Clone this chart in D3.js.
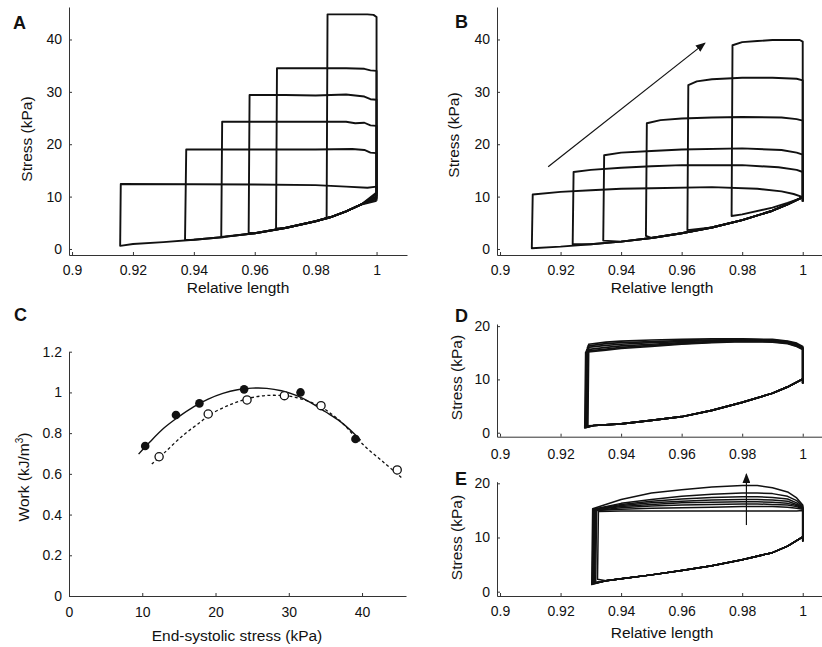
<!DOCTYPE html>
<html>
<head>
<meta charset="utf-8">
<script src="https://cdn.jsdelivr.net/npm/d3@7"></script>
<style>
body { margin: 0; background: #fff; }
text { font-family: Arial, "Liberation Sans", Helvetica, sans-serif; fill: #111; }
</style>
</head>
<body>
<svg id="chart" width="822" height="647"></svg>
<script>
// ---- values ----

// shared length ticks for the loop panels
const lengthTicks = [0.9, 0.92, 0.94, 0.96, 0.98, 1];

// A: afterload series, each loop = start at L=1, ejection points, end-systolic length, bottom
const aPassive = [[0.92, 0.95], [0.93, 1.3], [0.94, 1.75], [0.95, 2.3], [0.96, 3.0], [0.97, 4.0],
  [0.98, 5.3], [0.985, 6.1], [0.99, 7.2], [0.995, 8.5]];
const aLoops = [
  {les: 0.9158, bottom: 0.6, start: 10.8, iso: [[1, 11.9], [0.997, 11.7], [0.99, 11.9], [0.98, 12.2], [0.96, 12.3], [0.94, 12.35], [0.916, 12.4]]},
  {les: 0.9371, bottom: 1.7, start: 10.5, iso: [[1, 18.3], [0.998, 18.4], [0.996, 18.9], [0.992, 19.1], [0.98, 19.0], [0.96, 19.0], [0.9375, 19.0]]},
  {les: 0.949, bottom: 2.3, start: 10.1, iso: [[1, 23.5], [0.998, 23.6], [0.996, 24.1], [0.993, 24.0], [0.99, 24.3], [0.98, 24.3], [0.96, 24.3], [0.9493, 24.3]]},
  {les: 0.958, bottom: 3.1, start: 9.8, iso: [[1, 28.5], [0.998, 28.6], [0.996, 29.1], [0.993, 29.3], [0.99, 29.5], [0.98, 29.3], [0.97, 29.4], [0.9583, 29.4]]},
  {les: 0.967, bottom: 3.9, start: 9.5, iso: [[1, 34.0], [0.998, 34.1], [0.996, 34.4], [0.99, 34.5], [0.98, 34.5], [0.9673, 34.5]]},
  {les: 0.9836, bottom: 5.8, start: 9.2, iso: [[1, 44.3], [0.999, 44.7], [0.997, 44.8], [0.99, 44.8], [0.9839, 44.8]]}
];

// B: preload series
const bPassive = [[0.92, 0.45], [0.93, 0.9], [0.94, 1.4], [0.95, 2.1], [0.96, 3.0], [0.97, 4.1],
  [0.98, 5.5], [0.99, 7.3], [0.995, 8.5], [1, 9.9]];
const bLoops = [
  {les: 0.9105, bottom: 0.15, start: 9.9, iso: [[1, 9.9], [0.997, 10.5], [0.993, 11.0], [0.985, 11.5], [0.97, 11.8], [0.95, 11.6], [0.94, 11.5], [0.93, 11.2], [0.92, 10.9], [0.9108, 10.4]]},
  {les: 0.924, bottom: 0.9, start: 9.2, iso: [[1, 14.7], [0.998, 15.1], [0.992, 15.6], [0.98, 16.0], [0.96, 16.0], [0.95, 15.8], [0.94, 15.5], [0.93, 15.1], [0.9243, 14.7]]},
  {les: 0.9341, bottom: 1.6, start: 9.3, iso: [[1, 18.0], [0.998, 18.4], [0.993, 18.9], [0.98, 19.2], [0.96, 19.0], [0.95, 18.7], [0.94, 18.4], [0.9344, 17.9]]},
  {les: 0.9482, bottom: 2.5, start: 9.1, iso: [[1, 24.5], [0.998, 24.8], [0.993, 25.1], [0.98, 25.2], [0.97, 25.1], [0.96, 24.9], [0.953, 24.6], [0.9485, 24.0]]},
  {les: 0.9619, bottom: 3.6, start: 9.0, iso: [[1, 32.2], [0.998, 32.5], [0.99, 32.7], [0.98, 32.7], [0.97, 32.4], [0.965, 32.0], [0.9622, 31.3]]},
  {les: 0.9765, bottom: 6.3, start: 9.0, iso: [[1, 39.6], [0.999, 39.9], [0.99, 39.9], [0.985, 39.7], [0.98, 39.5], [0.9768, 38.9]],
    fill: [[0.98, 6.6], [0.99, 7.9], [0.995, 8.8], [1, 9.8]]}
];
const bArrow = [[0.9159, 15.7], [0.9677, 39.3]];

// C: work vs end-systolic stress
const cFilledStress = [10.4, 14.6, 17.8, 23.9, 31.6, 39.1];
const cFilledWork = [0.737, 0.889, 0.946, 1.015, 1.0, 0.771];
const cOpenStress = [12.3, 19.0, 24.3, 29.4, 34.4, 44.8];
const cOpenWork = [0.684, 0.894, 0.963, 0.984, 0.935, 0.619];
const cSolidFit = [[9.5, 0.697], [11, 0.755], [13, 0.826], [15, 0.881], [17, 0.929], [19, 0.967], [21, 0.995],
  [23, 1.013], [25, 1.021], [27, 1.02], [29, 1.008], [31, 0.985], [33, 0.95], [35, 0.905], [37, 0.858], [39, 0.795], [39.8, 0.765]];
const cDashFit = [[11.3, 0.648], [13, 0.703], [15.6, 0.79], [18, 0.856], [19.3, 0.892], [22, 0.94], [25, 0.975],
  [28, 0.986], [31, 0.975], [34.3, 0.93], [37, 0.86], [39, 0.785], [40.7, 0.725], [43, 0.655], [45.5, 0.578]];

// D: repeated beats, same load
const dLengths = [1, 0.998, 0.995, 0.99, 0.98, 0.97, 0.96, 0.95, 0.94, 0.935];
const dEjection = [
  [16.2, 16.8, 17.2, 17.5, 17.6, 17.6, 17.5, 17.4, 17.2, 17.0, 16.6],
  [16.0, 16.6, 17.1, 17.4, 17.5, 17.4, 17.3, 17.1, 16.9, 16.7, 16.3],
  [15.9, 16.5, 17.0, 17.3, 17.4, 17.3, 17.1, 16.9, 16.6, 16.4, 16.0],
  [15.8, 16.4, 16.9, 17.2, 17.3, 17.1, 16.9, 16.6, 16.3, 16.0, 15.6],
  [15.7, 16.3, 16.8, 17.1, 17.2, 17.0, 16.7, 16.4, 16.0, 15.7, 15.3],
  [15.6, 16.2, 16.7, 17.0, 17.1, 16.9, 16.6, 16.2, 15.8, 15.5, 15.1]
];
const dEndSystolic = [0.929, 0.9288, 0.9286, 0.9284, 0.9282, 0.928];
const dBottom = [1.3, 1.2, 1.1, 1.0, 1.0, 0.9];
const dStart = [9.3, 9.3, 9.2, 9.2, 9.3, 9.3];
const dPassive = [[0.931, 1.35], [0.94, 1.65], [0.95, 2.3], [0.96, 3.0], [0.97, 4.2], [0.98, 5.7],
  [0.99, 7.4], [0.995, 8.6], [1, 10.1]];

// E: repeated beats, rising contractility
const eLengths = [1, 0.998, 0.995, 0.99, 0.985, 0.98, 0.97, 0.96, 0.95, 0.94];
const eEjection = [
  [16.0, 17.3, 18.4, 19.2, 19.6, 19.6, 19.3, 18.8, 18.2, 17.0, 15.3],
  [15.8, 16.8, 17.6, 18.1, 18.2, 18.2, 18.0, 17.6, 17.0, 16.3, 15.2],
  [15.6, 16.4, 17.1, 17.4, 17.5, 17.5, 17.4, 17.1, 16.7, 16.1, 15.2],
  [15.5, 16.1, 16.7, 16.9, 17.0, 17.0, 16.9, 16.7, 16.4, 15.9, 15.1],
  [15.4, 15.9, 16.3, 16.5, 16.6, 16.6, 16.5, 16.4, 16.1, 15.7, 15.1],
  [15.3, 15.7, 16.0, 16.1, 16.2, 16.2, 16.1, 16.0, 15.8, 15.5, 15.0],
  [15.2, 15.4, 15.6, 15.7, 15.7, 15.7, 15.6, 15.5, 15.4, 15.2, 15.0],
  [15.0, 14.9, 14.9, 14.9, 14.9, 14.9, 14.9, 14.9, 14.9, 14.9, 14.8]
];
const eEndSystolic = [0.9303, 0.9305, 0.9307, 0.9309, 0.9311, 0.9313, 0.9316, 0.9322];
const eBottom = [1.3, 1.4, 1.5, 1.5, 1.6, 1.6, 1.7, 2.3];
const eStart = [9.3, 9.3, 9.2, 9.2, 9.3, 9.3, 9.4, 9.4];
const ePassive = [[0.935, 2.0], [0.94, 2.4], [0.95, 3.1], [0.96, 3.9], [0.97, 4.8], [0.98, 5.9],
  [0.99, 7.2], [0.995, 8.4], [1, 10.1]];
const eArrow = [[0.9814, 12.3], [0.9814, 21.7]];

// ---- drawing ----
const svg = d3.select("#chart");
const FONT = 'Arial, "Liberation Sans", Helvetica, sans-serif';

svg.append("defs").append("marker")
  .attr("id", "head")
  .attr("markerUnits", "userSpaceOnUse")
  .attr("markerWidth", 10).attr("markerHeight", 8)
  .attr("refX", 9).attr("refY", 4)
  .attr("orient", "auto")
  .append("path").attr("d", "M0,0 L10,4 L0,8 z").attr("fill", "#111");

function panel(p) {
  const x = d3.scaleLinear().domain(p.xDomain).range(p.xRange);
  const y = d3.scaleLinear().domain(p.yDomain).range(p.yRange);
  const g = svg.append("g");

  const xa = g.append("g").attr("transform", "translate(0," + p.yRange[0] + ")")
    .call(d3.axisBottom(x).tickValues(p.xTicks).tickFormat(d => String(d))
      .tickSizeInner(-3).tickSizeOuter(0).tickPadding(p.xPad));
  const ya = g.append("g").attr("transform", "translate(" + p.xRange[0] + ",0)")
    .call(d3.axisLeft(y).tickValues(p.yTicks).tickFormat(d => String(d))
      .tickSizeInner(-3).tickSizeOuter(0).tickPadding(7));
  [xa, ya].forEach(a => {
    a.attr("font-size", 14).attr("font-family", FONT);
    a.selectAll(".domain, line").attr("stroke", "#333").attr("stroke-width", 1);
    a.selectAll("text").attr("fill", "#111");
  });

  // panel letter
  g.append("text").attr("x", p.letter[1]).attr("y", p.letter[2])
    .attr("font-size", 18).attr("font-weight", "bold").text(p.letter[0]);
  // y title
  if (p.yTitle) {
    g.append("text")
      .attr("transform", "translate(" + p.yTitle[1] + "," + p.yTitle[2] + ") rotate(-90)")
      .attr("text-anchor", "middle").attr("font-size", 15.5).text(p.yTitle[0]);
  }
  // x title
  if (p.xTitle) {
    g.append("text").attr("x", p.xTitle[1]).attr("y", p.xTitle[2])
      .attr("text-anchor", "middle").attr("font-size", 15.5).text(p.xTitle[0]);
  }
  return {x, y, g};
}

function loopPoints(l, passive) {
  const tail = l.fill || passive.filter(q => q[0] > l.les + 0.001);
  const pts = [[1, l.start]].concat(l.iso, [[l.les, l.bottom]], tail);
  if (pts[pts.length - 1][0] !== 1) pts.push([1, l.start]);
  return pts;
}

function drawLoops(pn, loops, passive, width) {
  const line = d3.line().x(d => pn.x(d[0])).y(d => pn.y(d[1]));
  pn.g.append("g").selectAll("path").data(loops).join("path")
    .attr("d", d => line(loopPoints(d, passive)))
    .attr("fill", "none").attr("stroke", "#111")
    .attr("stroke-width", width).attr("stroke-linejoin", "round");
}

function gridLoops(lengths, ejection, les, bottom, start) {
  return ejection.map((vals, i) => ({
    les: les[i], bottom: bottom[i], start: start[i],
    iso: lengths.map((L, j) => [L, vals[j]]).concat([[les[i] + 0.0003, vals[vals.length - 1]]])
  }));
}

function arrow(pn, pts) {
  pn.g.append("line")
    .attr("x1", pn.x(pts[0][0])).attr("y1", pn.y(pts[0][1]))
    .attr("x2", pn.x(pts[1][0])).attr("y2", pn.y(pts[1][1]))
    .attr("stroke", "#111").attr("stroke-width", 1.2)
    .attr("marker-end", "url(#head)");
}

// A
const pA = panel({
  xDomain: [0.899, 1.01], xRange: [69, 407], yDomain: [-1.15, 46.2], yRange: [255, 7],
  xTicks: lengthTicks, yTicks: [0, 10, 20, 30, 40], xPad: 10,
  letter: ["A", 13, 29], yTitle: ["Stress (kPa)", 32, 139], xTitle: ["Relative length", 238, 293]
});
drawLoops(pA, aLoops, aPassive, 1.9);

// B
const pB = panel({
  xDomain: [0.899, 1.01], xRange: [497, 833], yDomain: [-1.15, 46.2], yRange: [255, 7],
  xTicks: lengthTicks, yTicks: [0, 10, 20, 30, 40], xPad: 10,
  letter: ["B", 455, 27.5], yTitle: ["Stress (kPa)", 458.5, 135], xTitle: ["Relative length", 662, 293]
});
drawLoops(pB, bLoops, bPassive, 1.9);
arrow(pB, bArrow);

// C
const pC = panel({
  xDomain: [0, 46], xRange: [69, 406], yDomain: [0, 1.2], yRange: [596, 351.7],
  xTicks: [0, 10, 20, 30, 40], yTicks: [0, 0.2, 0.4, 0.6, 0.8, 1, 1.2], xPad: 11,
  letter: ["C", 14, 321], yTitle: null, xTitle: ["End-systolic stress (kPa)", 237, 641]
});
// y title with superscript
const wt = pC.g.append("text")
  .attr("transform", "translate(28.5,477) rotate(-90)")
  .attr("text-anchor", "middle").attr("font-size", 15.5);
wt.append("tspan").text("Work (kJ/m");
wt.append("tspan").attr("font-size", 10).attr("dy", -6).text("3");
wt.append("tspan").attr("dy", 6).text(")");

const cLine = d3.line().x(d => pC.x(d[0])).y(d => pC.y(d[1])).curve(d3.curveCatmullRom);
pC.g.append("path").attr("d", cLine(cSolidFit))
  .attr("fill", "none").attr("stroke", "#111").attr("stroke-width", 1.4);
pC.g.append("path").attr("d", cLine(cDashFit))
  .attr("fill", "none").attr("stroke", "#111").attr("stroke-width", 1.3)
  .attr("stroke-dasharray", "3,2.5");
pC.g.append("g").selectAll("circle").data(d3.range(cFilledStress.length)).join("circle")
  .attr("cx", i => pC.x(cFilledStress[i])).attr("cy", i => pC.y(cFilledWork[i]))
  .attr("r", 4.3).attr("fill", "#111");
pC.g.append("g").selectAll("circle").data(d3.range(cOpenStress.length)).join("circle")
  .attr("cx", i => pC.x(cOpenStress[i])).attr("cy", i => pC.y(cOpenWork[i]))
  .attr("r", 4.1).attr("fill", "#fff").attr("stroke", "#111").attr("stroke-width", 1.3);

// D
const pD = panel({
  xDomain: [0.899, 1.01], xRange: [497, 833], yDomain: [-0.75, 20.4], yRange: [436.7, 324],
  xTicks: lengthTicks, yTicks: [0, 10, 20], xPad: 12,
  letter: ["D", 455, 321.5], yTitle: ["Stress (kPa)", 462, 377.5], xTitle: null
});
drawLoops(pD, gridLoops(dLengths, dEjection, dEndSystolic, dBottom, dStart), dPassive, 1.7);

// E
const pE = panel({
  xDomain: [0.899, 1.01], xRange: [497, 833], yDomain: [-0.8, 20.3], yRange: [596, 481.7],
  xTicks: lengthTicks, yTicks: [0, 10, 20], xPad: 10.5,
  letter: ["E", 455, 485], yTitle: ["Stress (kPa)", 462, 537.5], xTitle: ["Relative length", 662, 638]
});
drawLoops(pE, gridLoops(eLengths, eEjection, eEndSystolic, eBottom, eStart), ePassive, 1.5);
arrow(pE, eArrow);
</script>
</body>
</html>
